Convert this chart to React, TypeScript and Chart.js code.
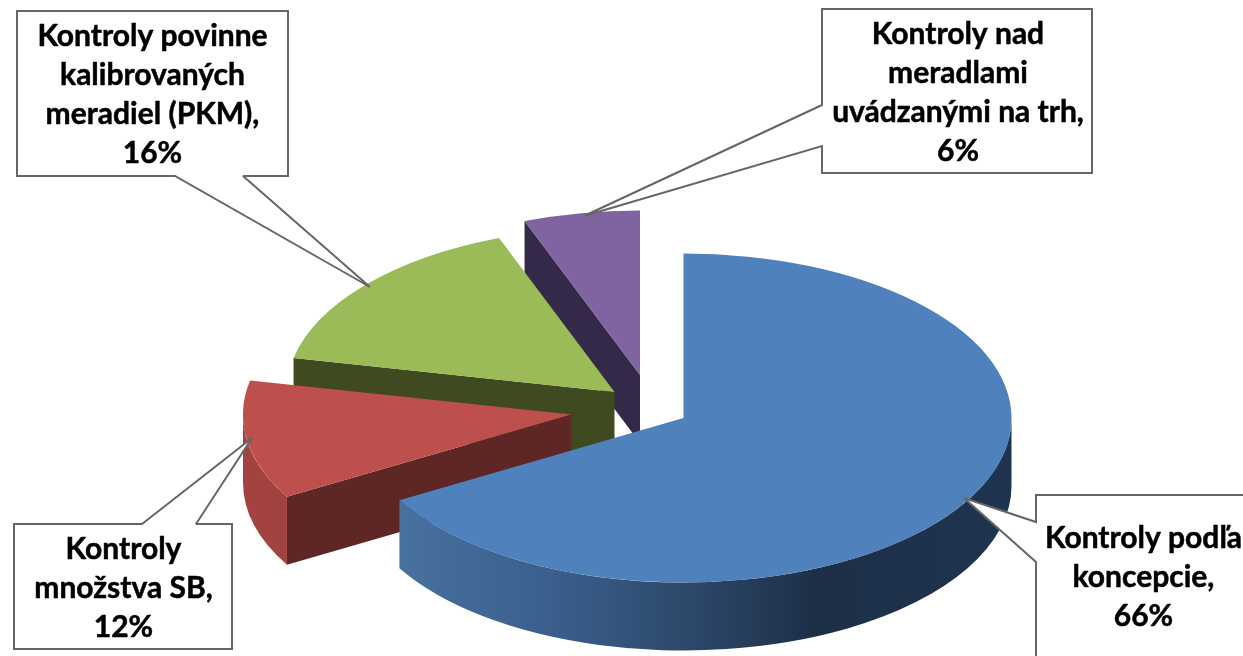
import React, { useEffect, useRef } from "react";
import { Chart, registerables } from "chart.js";

Chart.register(...registerables);

// ---- data (consistent with the printed percentages)
const categories = [
  "Kontroly podľa koncepcie",
  "Kontroly množstva SB",
  "Kontroly povinne kalibrovaných meradiel (PKM)",
  "Kontroly nad meradlami uvádzanými na trh",
];
const values = [66.4, 11.6, 15.9, 5.7];
const labelLines = [
  ["Kontroly podľa", "koncepcie,"],
  ["Kontroly", "množstva SB,"],
  ["Kontroly povinne", "kalibrovaných", "meradiel (PKM),"],
  ["Kontroly nad", "meradlami", "uvádzanými na trh,"],
];

// ---- styles
const topColors = ["#4f81bd", "#bd4f4c", "#9bbb59", "#8064a2"];
const cutWallColors = ["#1f3450", "#5e2624", "#3f4a21", "#35294a"];
const rimColors = ["#1f3450", "#a2433f", "#3f4a21", "#35294a"];

// ---- 3D projection of the exploded pie
const RX = 328;
const RY = 164.5;
const DEPTH = 68;
const tipX = [683.5, 571, 614.5, 640];
const tipY = [418, 414.5, 392, 375];

// ---- callouts: outline of each label box with its pointer, and text placement
const calloutShapes = [
  [[1036, 495], [1262, 495], [1262, 680], [1036, 680], [1036, 562], [964, 498], [1036, 522]],
  [[14, 524], [142, 524], [252, 438], [196, 524], [232, 524], [232, 649], [14, 649]],
  [[17, 11], [288, 11], [288, 176], [243, 176], [370, 287], [175, 176], [17, 176]],
  [[822, 9], [1092, 9], [1092, 173], [822, 173], [822, 146], [584, 216], [822, 105]],
];
const textCenterX = [1143.5, 123.5, 152.5, 958];
const textFirstBaseline = [548, 559, 46, 44];
const LINE_HEIGHT = 39;
const FONT = "bold 30px Lato";

const pie3d = {
  id: "pie3d",
  beforeDatasetDraw(chart: any) {
    const ctx: CanvasRenderingContext2D = chart.ctx;
    const arcs = chart.getDatasetMeta(0).data;
    // back to front
    for (let i = arcs.length - 1; i >= 0; i--) {
      const arc = arcs[i];
      const tx = tipX[i];
      const ty = tipY[i];
      const start = arc.startAngle;
      const end = arc.endAngle;
      const px = (a: number) => tx + RX * Math.cos(a);
      const py = (a: number) => ty + RY * Math.sin(a);

      // radial wall that faces the viewer
      if (i !== 0) {
        ctx.beginPath();
        ctx.moveTo(tx, ty);
        ctx.lineTo(px(start), py(start));
        ctx.lineTo(px(start), py(start) + DEPTH);
        ctx.lineTo(tx, ty + DEPTH);
        ctx.closePath();
        ctx.fillStyle = cutWallColors[i];
        ctx.fill();
      }

      // outer rim: only the part where the ellipse faces downward
      const rimStart = Math.max(start, 0);
      const rimEnd = Math.min(end, Math.PI);
      if (rimEnd > rimStart) {
        ctx.beginPath();
        ctx.ellipse(tx, ty, RX, RY, 0, rimStart, rimEnd);
        ctx.ellipse(tx, ty + DEPTH, RX, RY, 0, rimEnd, rimStart, true);
        ctx.closePath();
        if (i === 0) {
          const g = ctx.createLinearGradient(399, 0, 1012, 0);
          g.addColorStop(0, "#47719f");
          g.addColorStop(0.25, "#3a5f8c");
          g.addColorStop(0.5, "#2b4566");
          g.addColorStop(0.68, "#1d2f47");
          g.addColorStop(1, "#1f3450");
          ctx.fillStyle = g;
        } else {
          ctx.fillStyle = rimColors[i];
        }
        ctx.fill();
      }

      // top face: the library's own arc, projected
      ctx.save();
      ctx.translate(tx, ty);
      ctx.scale(RX / arc.outerRadius, RY / arc.outerRadius);
      ctx.translate(-arc.x, -arc.y);
      arc.draw(ctx);
      ctx.restore();
    }
    return false;
  },
  afterDatasetsDraw(chart: any) {
    const ctx: CanvasRenderingContext2D = chart.ctx;
    calloutShapes.forEach((shape) => {
      ctx.beginPath();
      shape.forEach(([x, y], k) => (k === 0 ? ctx.moveTo(x, y) : ctx.lineTo(x, y)));
      ctx.closePath();
      ctx.fillStyle = "#ffffff";
      ctx.fill();
      ctx.strokeStyle = "#666666";
      ctx.lineWidth = 2;
      ctx.lineJoin = "miter";
      ctx.miterLimit = 2;
      ctx.stroke();
    });
    ctx.font = FONT;
    ctx.fillStyle = "#000000";
    ctx.strokeStyle = "#000000";
    ctx.lineWidth = 0.5;
    ctx.textAlign = "center";
    ctx.textBaseline = "alphabetic";
    labelLines.forEach((lines, i) => {
      const all = [...lines, `${Math.round(values[i])}%`];
      all.forEach((t, k) => {
        const y = textFirstBaseline[i] + k * LINE_HEIGHT;
        ctx.fillText(t, textCenterX[i], y);
        ctx.strokeText(t, textCenterX[i], y);
      });
    });
  },
};

export default function App() {
  const ref = useRef<HTMLCanvasElement | null>(null);
  useEffect(() => {
    document.body.style.margin = "0";
    document.body.style.background = "#ffffff";
    const chart = new Chart(ref.current as HTMLCanvasElement, {
      type: "pie",
      data: {
        labels: categories,
        datasets: [
          {
            data: values,
            backgroundColor: topColors,
            borderWidth: 0,
          },
        ],
      },
      options: {
        responsive: false,
        animation: false,
        plugins: { legend: { display: false }, tooltip: { enabled: false } },
      },
      plugins: [pie3d],
    } as any);
    return () => chart.destroy();
  }, []);
  return <canvas ref={ref} width={1243} height={656} style={{ display: "block" }} />;
}
